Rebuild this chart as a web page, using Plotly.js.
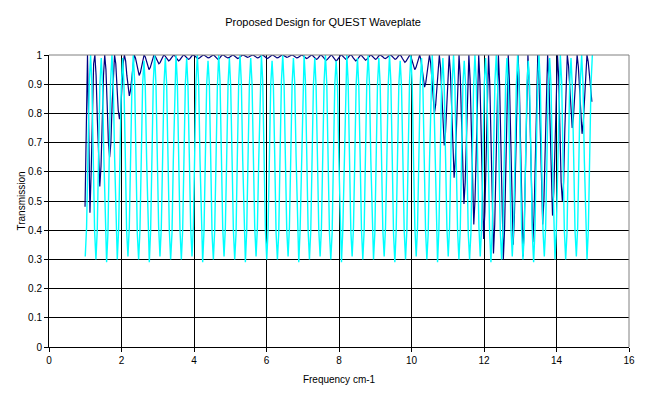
<!DOCTYPE html>
<html>
<head>
<meta charset="utf-8">
<script src="https://cdn.plot.ly/plotly-3.0.1.min.js"></script>
<style>html,body{margin:0;padding:0;background:#fff;}#chart{width:646px;height:399px;}</style>
</head>
<body>
<div id="chart"></div>
<script>
// Frequency grids (cm-1) for each series
const cyanFreqStart = 1.0;
const cyanFreqStep = 0.036813;
const navyFreqStart = 0.994;
const navyFreqStep = 0.033938;

const xTicks = [0, 2, 4, 6, 8, 10, 12, 14, 16];
const yTicks = [0, 0.1, 0.2, 0.3, 0.4, 0.5, 0.6, 0.7, 0.8, 0.9, 1];

// Series
const cyanTransmission = [
0.31,0.41,0.65,0.90,1.00,0.90,0.65,0.40,
0.30,0.40,0.66,0.90,0.99,0.89,0.64,0.40,
0.29,0.39,0.65,0.91,1.00,0.90,0.65,0.41,
0.30,0.40,0.64,0.89,0.99,0.90,0.66,0.40,
0.31,0.41,0.65,0.90,1.00,0.91,0.65,0.39,
0.30,0.40,0.65,0.90,0.98,0.89,0.64,0.40,
0.29,0.40,0.66,0.91,1.00,0.90,0.65,0.41,
0.31,0.41,0.65,0.90,0.99,0.90,0.65,0.40,
0.30,0.39,0.64,0.89,1.00,0.91,0.66,0.40,
0.30,0.40,0.65,0.90,0.99,0.89,0.65,0.41,
0.31,0.41,0.66,0.91,1.00,0.90,0.64,0.40,
0.29,0.40,0.65,0.90,0.98,0.90,0.65,0.39,
0.30,0.40,0.64,0.89,1.00,0.91,0.66,0.41,
0.31,0.41,0.65,0.90,0.99,0.89,0.65,0.40,
0.30,0.39,0.66,0.91,1.00,0.90,0.64,0.40,
0.29,0.40,0.65,0.90,0.99,0.90,0.65,0.41,
0.31,0.41,0.64,0.89,1.00,0.91,0.66,0.40,
0.30,0.40,0.65,0.90,0.98,0.89,0.65,0.39,
0.30,0.39,0.66,0.91,1.00,0.90,0.64,0.40,
0.31,0.41,0.65,0.90,0.99,0.90,0.65,0.41,
0.29,0.40,0.64,0.89,1.00,0.91,0.66,0.40,
0.30,0.40,0.65,0.90,0.99,0.89,0.65,0.40,
0.31,0.41,0.66,0.91,1.00,0.90,0.64,0.39,
0.30,0.39,0.65,0.90,0.98,0.90,0.65,0.41,
0.29,0.40,0.64,0.89,1.00,0.91,0.66,0.40,
0.31,0.41,0.65,0.90,0.99,0.89,0.65,0.40,
0.30,0.40,0.66,0.91,1.00,0.90,0.64,0.41,
0.30,0.39,0.65,0.90,0.99,0.90,0.65,0.40,
0.31,0.41,0.64,0.89,1.00,0.91,0.66,0.39,
0.29,0.40,0.65,0.90,0.98,0.89,0.65,0.40,
0.30,0.40,0.66,0.91,1.00,0.90,0.64,0.41,
0.31,0.41,0.65,0.90,0.99,0.90,0.65,0.40,
0.30,0.39,0.64,0.89,1.00,0.91,0.66,0.40,
0.29,0.40,0.65,0.90,0.99,0.89,0.65,0.41,
0.31,0.41,0.66,0.91,1.00,0.90,0.64,0.40,
0.30,0.40,0.65,0.90,0.98,0.90,0.65,0.39,
0.30,0.39,0.64,0.89,1.00,0.91,0.66,0.41,
0.31,0.41,0.65,0.90,0.99,0.89,0.65,0.40,
0.29,0.40,0.66,0.91,1.00,0.90,0.64,0.40,
0.30,0.40,0.65,0.90,0.99,0.90,0.65,0.41,
0.31,0.41,0.64,0.89,1.00,0.91,0.66,0.40,
0.30,0.39,0.65,0.90,0.98,0.89,0.65,0.39,
0.29,0.40,0.66,0.91,1.00,0.90,0.64,0.40,
0.31,0.41,0.65,0.90,0.99,0.90,0.65,0.41,
0.30,0.40,0.64,0.89,1.00,0.91,0.66,0.40,
0.30,0.39,0.65,0.90,0.99,0.89,0.65,0.40,
0.31,0.41,0.66,0.91,1.00,0.90,0.64,0.41,
0.30,0.40,0.65,0.90,1.00
];

const navyTransmission = [
0.48,0.85,1.00,0.75,0.46,0.60,0.85,0.97,
1.00,0.93,0.78,0.62,0.55,0.62,0.78,0.93,
1.00,0.95,0.83,0.70,0.65,0.70,0.83,0.95,
1.00,0.97,0.89,0.81,0.78,0.81,0.89,0.97,
1.00,0.98,0.93,0.88,0.86,0.88,0.93,0.98,
1.00,0.99,0.965,0.94,0.93,0.94,0.965,0.99,
1.00,0.993,0.975,0.957,0.95,0.957,0.975,0.993,
1.00,0.996,0.985,0.974,0.97,0.974,0.985,0.996,
1.00,0.997,0.99,0.983,0.98,0.983,0.99,0.997,
1.00,0.997,0.99,0.983,0.98,0.983,0.99,0.997,
1.00,0.998,0.993,0.987,0.985,0.987,0.993,0.998,
1.00,0.998,0.994,0.99,0.988,0.99,0.994,0.998,
1.00,0.999,0.995,0.991,0.99,0.991,0.995,0.999,
1.00,0.998,0.993,0.987,0.985,0.987,0.993,0.998,
1.00,0.999,0.995,0.991,0.99,0.991,0.995,0.999,
1.00,0.998,0.994,0.99,0.988,0.99,0.994,0.998,
1.00,0.999,0.996,0.993,0.992,0.993,0.996,0.999,
1.00,0.999,0.995,0.991,0.99,0.991,0.995,0.999,
1.00,0.998,0.994,0.99,0.988,0.99,0.994,0.998,
1.00,0.999,0.995,0.991,0.99,0.991,0.995,0.999,
1.00,0.999,0.996,0.993,0.992,0.993,0.996,0.999,
1.00,0.999,0.995,0.991,0.99,0.991,0.995,0.999,
1.00,0.998,0.994,0.99,0.988,0.99,0.994,0.998,
1.00,0.998,0.993,0.987,0.985,0.987,0.993,0.998,
1.00,0.997,0.991,0.985,0.982,0.985,0.991,0.997,
1.00,0.997,0.99,0.983,0.98,0.983,0.99,0.997,
1.00,0.998,0.993,0.987,0.985,0.987,0.993,0.998,
1.00,0.997,0.99,0.983,0.98,0.983,0.99,0.997,
1.00,0.997,0.991,0.985,0.982,0.985,0.991,0.997,
1.00,0.998,0.993,0.987,0.985,0.987,0.993,0.998,
1.00,0.998,0.994,0.99,0.988,0.99,0.994,0.998,
1.00,0.998,0.993,0.987,0.985,0.987,0.993,0.998,
1.00,0.996,0.988,0.979,0.975,0.979,0.988,0.996,
1.00,0.993,0.975,0.957,0.95,0.957,0.975,0.993,
1.00,0.984,0.945,0.906,0.89,0.906,0.945,0.984,
1.00,0.971,0.90,0.829,0.80,0.829,0.90,0.971,
1.00,0.955,0.845,0.735,0.69,0.735,0.845,0.955,
1.00,0.939,0.79,0.641,0.58,0.641,0.79,0.939,
1.00,0.926,0.745,0.564,0.49,0.564,0.745,0.926,
1.00,0.915,0.71,0.505,0.42,0.505,0.71,0.915,
1.00,0.908,0.685,0.462,0.37,0.462,0.685,0.908,
1.00,0.901,0.66,0.419,0.32,0.419,0.66,0.901,
1.00,0.898,0.65,0.402,0.30,0.402,0.65,0.898,
1.00,0.905,0.675,0.445,0.35,0.445,0.675,0.905,
1.00,0.899,0.655,0.411,0.31,0.411,0.655,0.899,
1.00,0.907,0.68,0.453,0.36,0.453,0.68,0.907,
1.00,0.915,0.71,0.505,0.42,0.505,0.71,0.915,
1.00,0.92,0.725,0.53,0.45,0.53,0.725,0.92,
1.00,0.926,0.745,0.564,0.50,0.564,0.745,0.926,
1.00,0.963,0.875,0.787,0.75,0.787,0.875,0.963,
1.00,0.96,0.865,0.77,0.73,0.77,0.865,0.96,
1.00,0.977,0.92,0.863,0.84
];

const FONT = 'Arial, "Liberation Sans", sans-serif';

const traces = [
  {
    type: 'scatter', mode: 'lines', name: 'Series 1',
    x0: navyFreqStart, dx: navyFreqStep, y: navyTransmission,
    line: {color: '#000080', width: 1.2}, hoverinfo: 'skip'
  },
  {
    type: 'scatter', mode: 'lines', name: 'Series 2',
    x0: cyanFreqStart, dx: cyanFreqStep, y: cyanTransmission,
    line: {color: '#00FFFF', width: 1.4}, hoverinfo: 'skip'
  }
];

const layout = {
  width: 646, height: 399,
  margin: {l: 49, r: 17, t: 55, b: 52, pad: 0},
  paper_bgcolor: '#ffffff', plot_bgcolor: '#ffffff',
  showlegend: false,
  font: {family: FONT, size: 10, color: '#000000'},
  title: {
    text: 'Proposed Design for QUEST Waveplate',
    font: {family: FONT, size: 11, color: '#000000'},
    x: 0.5, xref: 'container', xanchor: 'center',
    y: 1 - 22 / 399, yref: 'container', yanchor: 'middle'
  },
  xaxis: {
    range: [0, 16], tickmode: 'array', tickvals: xTicks, ticktext: xTicks.map(String),
    showgrid: true, gridcolor: '#000000', gridwidth: 1,
    showline: true, linecolor: '#000000', linewidth: 1,
    zeroline: false, ticks: 'outside', ticklen: 4, tickcolor: '#000000',
    tickfont: {family: FONT, size: 10, color: '#000000'},
    title: {text: 'Frequency cm-1', font: {family: FONT, size: 10, color: '#000000'}, standoff: 10},
    automargin: false, fixedrange: true
  },
  yaxis: {
    range: [0, 1], tickmode: 'array', tickvals: yTicks, ticktext: yTicks.map(String),
    showgrid: true, gridcolor: '#000000', gridwidth: 1,
    showline: true, linecolor: '#000000', linewidth: 1,
    zeroline: false, ticks: 'outside', ticklen: 4, tickcolor: '#000000',
    tickfont: {family: FONT, size: 10, color: '#000000'},
    title: {text: 'Transmission', font: {family: FONT, size: 10, color: '#000000'}, standoff: 0},
    automargin: false, fixedrange: true
  },
  shapes: [
    {type: 'line', xref: 'paper', yref: 'paper', x0: 0, x1: 1, y0: 1, y1: 1, line: {color: '#808080', width: 1}, layer: 'above'},
    {type: 'line', xref: 'paper', yref: 'paper', x0: 1, x1: 1, y0: 0, y1: 1, line: {color: '#808080', width: 1}, layer: 'above'}
  ]
};

Plotly.newPlot('chart', traces, layout, {staticPlot: true, displayModeBar: false});
</script>
</body>
</html>
